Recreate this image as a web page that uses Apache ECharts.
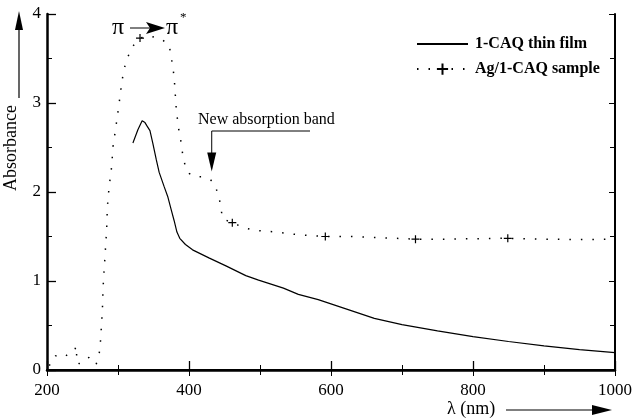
<!DOCTYPE html>
<html>
<head>
<meta charset="utf-8">
<script src="https://cdn.jsdelivr.net/npm/echarts@6/dist/echarts.min.js"></script>
<style>html,body{margin:0;padding:0;background:#fff}#c{width:635px;height:420px}</style>
</head>
<body>
<div id="c"></div>
<script>
// ---- data ----
var xTicks = [200, 400, 600, 800, 1000];
var yTicks = [0, 1, 2, 3, 4];
var seriesNames = ['1-CAQ thin film', 'Ag/1-CAQ sample'];
var filmLambda = [321,328,334,338,341,345,349,354,358,365,370,375,379,383,387,395,405,428,452,480,498,533,554,582,620,661,700,750,800,850,900,950,1000];
var filmAbs    = [2.55,2.70,2.80,2.78,2.74,2.69,2.55,2.36,2.22,2.06,1.95,1.80,1.68,1.55,1.48,1.41,1.35,1.26,1.17,1.06,1.01,0.92,0.85,0.79,0.69,0.58,0.51,0.44,0.375,0.32,0.27,0.23,0.195];
var agLambda = [203,208,212,216,220,225,230,235,239,241,242,244,248,253,259,264,269,271,273,275,276,277,278,278.5,279,280,281,282,283,284,285,287.5,291,293,297,301,304,308,314,320,331,346,361,372,375,379,382,385,388,391,395,400,409,417,424,430,436,442,445,447,461,477,492,508,522,538,554,571,592,629,660,690,719,760,800,849,900,950,1000];
var agAbs    = [0.05,0.09,0.16,0.15,0.14,0.15,0.18,0.20,0.22,0.27,0.13,0.06,0.10,0.12,0.14,0.10,0.06,0.05,0.15,0.28,0.41,0.54,0.67,0.80,0.93,1.06,1.19,1.32,1.45,1.57,1.83,2.06,2.28,2.51,2.73,2.96,3.15,3.37,3.52,3.63,3.73,3.75,3.72,3.65,3.52,3.30,2.94,2.73,2.60,2.43,2.28,2.21,2.17,2.17,2.15,2.14,2.09,1.95,1.83,1.70,1.655,1.60,1.57,1.56,1.55,1.535,1.52,1.51,1.50,1.50,1.49,1.48,1.47,1.47,1.475,1.48,1.47,1.465,1.47];
var agMarkerLambda = [331, 461, 592, 719, 849];

var serif = '"Liberation Serif", "DejaVu Serif", serif';
var plusPath = 'path://M0,5L10,5M5,0L5,10';

var filmData = filmLambda.map(function (l, i) { return [l, filmAbs[i]]; });
var agData = agLambda.map(function (l, i) {
  var isMarker = agMarkerLambda.indexOf(l) >= 0;
  return isMarker ? { value: [l, agAbs[i]] } : { value: [l, agAbs[i]], symbol: 'none' };
});

var chart = echarts.init(document.getElementById('c'), null, { renderer: 'canvas' });

function axisCommon(extra) {
  var base = {
    type: 'value',
    axisLine: { show: true, lineStyle: { color: '#000', width: 2.5 } },
    splitLine: { show: false },
    axisTick: { show: true, inside: true, length: 9, lineStyle: { color: '#000', width: 1.3 } },
    minorTick: { show: true, splitNumber: 2, length: 5, lineStyle: { color: '#000', width: 1 } },
    axisLabel: { color: '#000', fontFamily: serif, fontSize: 17 }
  };
  for (var k in extra) base[k] = extra[k];
  return base;
}

var option = {
  animation: false,
  backgroundColor: '#fff',
  grid: { left: 47, right: 15, top: 14, bottom: 50 },
  xAxis: [
    axisCommon({ position: 'bottom', min: 200, max: 1000, interval: 200,
      axisLabel: { color: '#000', fontFamily: serif, fontSize: 17, margin: 12,
        formatter: function (v) { return xTicks.indexOf(v) >= 0 ? String(v) : ''; } } }),
    axisCommon({ position: 'top', min: 200, max: 1000, interval: 200,
      axisLine: { show: true, lineStyle: { color: '#000', width: 2 } },
      axisTick: { show: true, inside: true, length: 6, lineStyle: { color: '#000', width: 1 } },
      axisLabel: { show: false } })
  ],
  yAxis: [
    axisCommon({ position: 'left', min: 0, max: 4, interval: 1,
      axisLabel: { color: '#000', fontFamily: serif, fontSize: 17, margin: 6,
        formatter: function (v) { return yTicks.indexOf(v) >= 0 ? String(v) : ''; } } }),
    axisCommon({ position: 'right', min: 0, max: 4, interval: 1,
      axisLine: { show: true, lineStyle: { color: '#000', width: 2 } },
      axisTick: { show: true, inside: true, length: 6, lineStyle: { color: '#000', width: 1 } },
      axisLabel: { show: false } })
  ],
  legend: {
    orient: 'vertical',
    left: 411, top: 31,
    itemWidth: 51, itemHeight: 14, itemGap: 9,
    textStyle: { color: '#000', fontFamily: serif, fontSize: 16, fontWeight: 'bold', padding: [0, 0, 0, 2] },
    data: [
      { name: seriesNames[0], itemStyle: { color: 'rgba(0,0,0,0)', borderWidth: 0, opacity: 0 } },
      { name: seriesNames[1] }
    ]
  },
  series: [
    {
      name: seriesNames[0], type: 'line', data: filmData,
      symbol: 'none', smooth: false,
      lineStyle: { color: '#000', width: 1.2 },
      itemStyle: { color: '#000' }
    },
    {
      name: seriesNames[1], type: 'line', data: agData,
      symbol: plusPath, symbolSize: 8, showSymbol: true, showAllSymbol: true,
      lineStyle: { color: '#000', width: 1.5, type: [1.5, 10] },
      itemStyle: { color: 'none', borderColor: '#000', borderWidth: 1.2 }
    }
  ]
};
chart.setOption(option);

// annotations anchored to the data scale
var p1 = chart.convertToPixel({ xAxisIndex: 0, yAxisIndex: 0 }, [432, 2.22]);
var gx = p1[0], gTip = p1[1];
chart.setOption({
  graphic: [
    // pi -> pi*
    { type: 'text', left: 112, top: 16, style: { text: 'π', font: '24px ' + serif, fill: '#000' } },
    { type: 'line', shape: { x1: 130, y1: 28, x2: 150, y2: 28 }, style: { stroke: '#000', lineWidth: 1 } },
    { type: 'polygon', shape: { points: [[146, 22], [165, 28], [146, 34], [150, 28]] }, style: { fill: '#000' } },
    { type: 'text', left: 166, top: 16, style: { text: 'π', font: '24px ' + serif, fill: '#000' } },
    { type: 'text', left: 180, top: 11, style: { text: '*', font: '13px ' + serif, fill: '#000' } },
    // new absorption band
    { type: 'text', left: 198, top: 112,
      style: { text: 'New absorption band', font: '16px ' + serif, fill: '#000' } },
    { type: 'line', shape: { x1: gx, y1: 131, x2: 310, y2: 131 }, style: { stroke: '#000', lineWidth: 1 } },
    { type: 'line', shape: { x1: gx, y1: 131, x2: gx, y2: gTip - 12 }, style: { stroke: '#000', lineWidth: 1 } },
    { type: 'polygon', shape: { points: [[gx - 4.5, gTip - 20], [gx + 4.5, gTip - 20], [gx, gTip - 1]] }, style: { fill: '#000' } },
    // y axis name with arrow
    { type: 'text', x: 11, y: 148, rotation: Math.PI / 2, originX: 0, originY: 0,
      style: { text: 'Absorbance', font: '18px ' + serif, fill: '#000', align: 'center', verticalAlign: 'middle' } },
    { type: 'line', shape: { x1: 19, y1: 98, x2: 19, y2: 24 }, style: { stroke: '#000', lineWidth: 1.2 } },
    { type: 'polygon', shape: { points: [[15, 30], [19, 11], [23, 30]] }, style: { fill: '#000' } },
    // x axis name with arrow
    { type: 'text', left: 447, top: 400, style: { text: 'λ (nm)', font: '18px ' + serif, fill: '#000' } },
    { type: 'line', shape: { x1: 506, y1: 410, x2: 598, y2: 410 }, style: { stroke: '#000', lineWidth: 1.2 } },
    { type: 'polygon', shape: { points: [[592, 405], [612, 410], [592, 415]] }, style: { fill: '#000' } }
  ]
});
</script>
</body>
</html>
